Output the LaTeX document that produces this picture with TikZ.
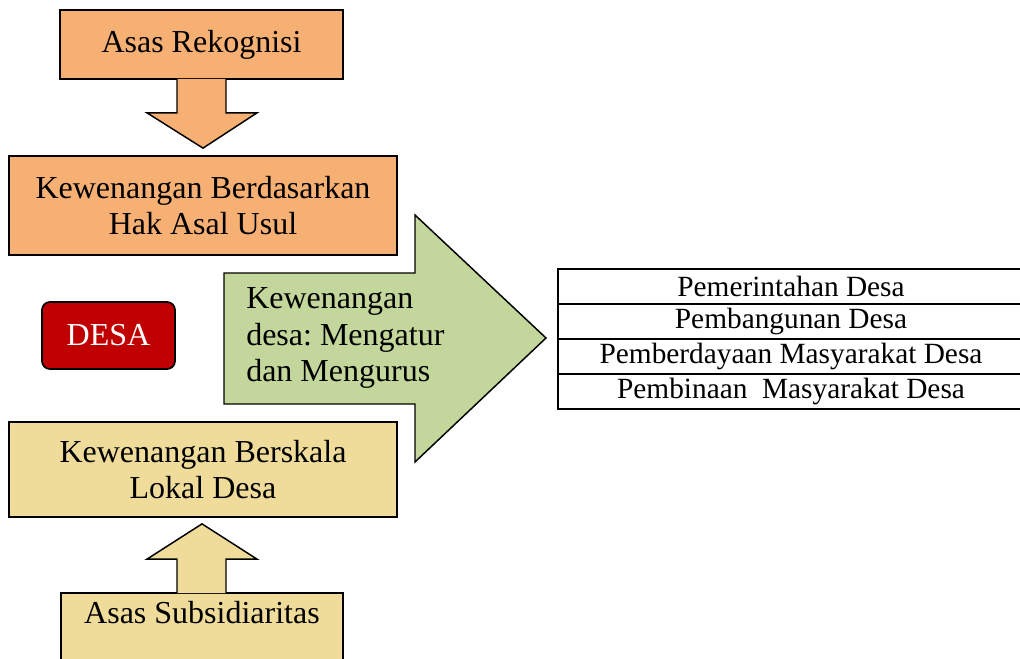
\documentclass[tikz,border=0pt]{standalone}
\usepackage{fontspec}
\setmainfont{Liberation Serif}
\usetikzlibrary{calc}
\definecolor{rekorange}{HTML}{F6B073}
\definecolor{kwgreen}{HTML}{C3D69B}
\definecolor{lokyellow}{HTML}{EFDC9A}
\definecolor{desared}{HTML}{C00000}
\frenchspacing

\begin{document}
\begin{tikzpicture}[x=0.75pt,y=-0.75pt,
    asasbox/.style={draw=black,line width=1.3pt,inner sep=0pt,align=center,
        font=\fontsize{24}{27}\selectfont},
    blockarrow/.style={draw=black,line width=1.1pt,line join=miter},
    rowcell/.style={draw=black,line width=1.1pt,minimum width=349.5pt,minimum height=26.25pt,
        inner sep=0pt,font=\fontsize{22}{24}\selectfont}]
\useasboundingbox (0,0) rectangle (1020,659);

\node [asasbox,fill=rekorange,minimum width=212.25pt,minimum height=51.75pt] (rek) at (201.5,44.5) {Asas Rekognisi};
\node [asasbox,fill=rekorange,minimum width=291pt,minimum height=74.25pt] (asal) at (203,205.5) {Kewenangan Berdasarkan\\Hak Asal Usul};

\node [asasbox,fill=lokyellow,minimum width=291pt,minimum height=71.25pt] (lokal) at (203,469.5) {Kewenangan Berskala\\Lokal Desa};
\node [asasbox,fill=lokyellow,minimum width=211.5pt,minimum height=60pt] (subsi) at (202,633) {};
\node [draw=none,font=\fontsize{24}{27}\selectfont] (subsitext) at (202,613) {Asas Subsidiaritas};

\node [draw=black,line width=1.3pt,fill=desared,rounded corners=6pt,minimum width=99.75pt,minimum height=50.25pt,
    text=white,font=\fontsize{24}{27}\selectfont] (desa) at (108.5,335.5) {DESA};

% arrow down
\draw [blockarrow,fill=rekorange] ($(rek.south)+(-24.5,-1)$) -- ($(rek.south)+(-24.5,33)$) -- ($(rek.south)+(-54.5,33)$)
    -- ($(asal.north)+(0,-7)$) -- ($(rek.south)+(55.5,33)$) -- ($(rek.south)+(24.5,33)$) -- ($(rek.south)+(24.5,-1)$);
% arrow up
\draw [blockarrow,fill=lokyellow] ($(subsi.north)+(-25,1)$) -- ($(subsi.north)+(-25,-33)$) -- ($(subsi.north)+(-55,-33)$)
    -- ($(lokal.south)+(-1,6)$) -- ($(subsi.north)+(55,-33)$) -- ($(subsi.north)+(24,-33)$) -- ($(subsi.north)+(24,1)$);

% big arrow
\draw [blockarrow,fill=kwgreen] (224,273) -- (415,273) -- (415,215) -- (546,338) -- (415,462) -- (415,404) -- (224,404) -- cycle;
\node [draw=none,anchor=west,align=left,inner sep=0pt,font=\fontsize{24}{27.5}\selectfont] (atur) at (246,338)
    {Kewenangan\\desa: Mengatur\\dan Mengurus};

\node [rowcell] (pemerintahan) at (791,286.5) {Pemerintahan Desa};
\node [rowcell] (pembangunan) at (791,321.5) {Pembangunan Desa};
\node [rowcell] (pemberdayaan) at (791,356.5) {Pemberdayaan Masyarakat Desa};
\node [rowcell] (pembinaan) at (791,391.5) {Pembinaan\ \ Masyarakat Desa};

\end{tikzpicture}
\end{document}
